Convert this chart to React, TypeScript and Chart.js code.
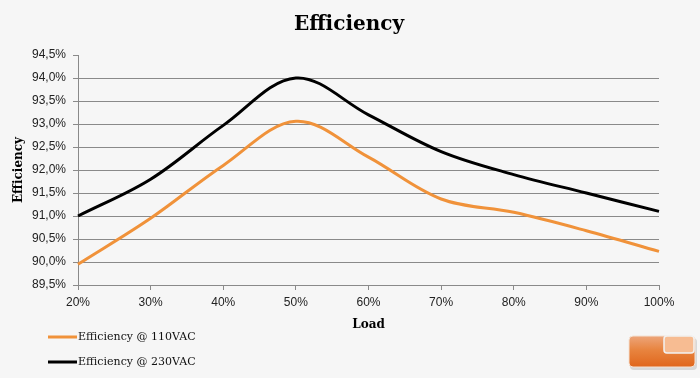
import { useEffect, useRef } from "react";
import { Chart, registerables } from "chart.js";

Chart.register(...registerables);

const loadLabels = ["20%", "30%", "40%", "50%", "60%", "70%", "80%", "90%", "100%"];
const eff110VAC = [89.95, 90.95, 92.1, 93.06, 92.28, 91.37, 91.08, 90.68, 90.23];
const eff230VAC = [91.0, 91.8, 92.97, 94.0, 93.2, 92.4, 91.9, 91.5, 91.1];
const seriesNames = ["Efficiency @ 110VAC", "Efficiency @ 230VAC"];
const seriesColors = ["#F0923A", "#000000"];
const chartTitle = "Efficiency";
const yMin = 89.5;
const yMax = 94.5;
const yStep = 0.5;

const GRID = "#8a8a8a";
const BG = "#f6f6f6";

const bgPlugin = {
  id: "bg",
  beforeDraw(chart: any) {
    const { ctx, width, height } = chart;
    ctx.save();
    ctx.fillStyle = BG;
    ctx.fillRect(0, 0, width, height);
    ctx.restore();
  },
};

function roundRectPath(ctx: any, x: number, y: number, w: number, h: number, r: number) {
  ctx.beginPath();
  ctx.moveTo(x + r, y);
  ctx.lineTo(x + w - r, y);
  ctx.quadraticCurveTo(x + w, y, x + w, y + r);
  ctx.lineTo(x + w, y + h - r);
  ctx.quadraticCurveTo(x + w, y + h, x + w - r, y + h);
  ctx.lineTo(x + r, y + h);
  ctx.quadraticCurveTo(x, y + h, x, y + h - r);
  ctx.lineTo(x, y + r);
  ctx.quadraticCurveTo(x, y, x + r, y);
  ctx.closePath();
}

const legendPlugin = {
  id: "customLegend",
  afterDraw(chart: any) {
    const { ctx } = chart;
    ctx.save();
    // title
    ctx.fillStyle = "#000";
    ctx.font = "bold 20px 'DejaVu Serif'";
    ctx.textAlign = "center";
    ctx.textBaseline = "middle";
    ctx.fillText(chartTitle, 349, 25);

    chart.data.datasets.forEach((ds: any, i: number) => {
      const y = 337 + i * 25;
      ctx.strokeStyle = ds.borderColor;
      ctx.lineWidth = 3;
      ctx.beginPath();
      ctx.moveTo(48, y);
      ctx.lineTo(77, y);
      ctx.stroke();
      ctx.fillStyle = "#111";
      ctx.font = "11px 'DejaVu Serif'";
      ctx.textBaseline = "middle";
      ctx.textAlign = "left";
      ctx.fillText(ds.label, 78, y);
    });

    // logo (decorative)
    ctx.fillStyle = "rgba(0,0,0,0.12)";
    roundRectPath(ctx, 630, 338, 67, 32, 4);
    ctx.fill();
    const g = ctx.createLinearGradient(0, 336, 0, 367);
    g.addColorStop(0, "#EDA57A");
    g.addColorStop(0.45, "#E8843F");
    g.addColorStop(1, "#E0661C");
    ctx.fillStyle = g;
    roundRectPath(ctx, 629, 336, 66, 31, 4);
    ctx.fill();
    ctx.strokeStyle = "#f4e2d4";
    ctx.lineWidth = 1;
    ctx.stroke();
    ctx.fillStyle = "#F7BC92";
    roundRectPath(ctx, 664, 336, 30, 17, 3);
    ctx.fill();
    ctx.strokeStyle = "#f2f2f2";
    ctx.lineWidth = 1.5;
    ctx.stroke();
    ctx.restore();
  },
};

export default function App() {
  const ref = useRef<HTMLCanvasElement | null>(null);

  useEffect(() => {
    document.body.style.margin = "0";
    const canvas = ref.current;
    if (!canvas) return;
    const chart = new Chart(canvas, {
      type: "line",
      data: {
        labels: loadLabels,
        datasets: [
          {
            label: seriesNames[0],
            data: eff110VAC,
            borderColor: seriesColors[0],
            backgroundColor: seriesColors[0],
            borderWidth: 3,
            pointRadius: 0,
            tension: 0.35,
            fill: false,
          },
          {
            label: seriesNames[1],
            data: eff230VAC,
            borderColor: seriesColors[1],
            backgroundColor: seriesColors[1],
            borderWidth: 3,
            pointRadius: 0,
            tension: 0.35,
            fill: false,
          },
        ],
      },
      options: {
        responsive: false,
        animation: false,
        devicePixelRatio: 1,
        layout: { padding: { left: 0, top: 55, right: 41, bottom: 0 } },
        plugins: {
          legend: { display: false },
          tooltip: { enabled: false },
          title: { display: false },
        },
        scales: {
          x: {
            type: "category",
            grid: {
              drawOnChartArea: false,
              drawTicks: true,
              tickLength: 5,
              tickColor: GRID,
              color: GRID,
            },
            border: { display: true, color: GRID, width: 1 },
            ticks: {
              color: "#222",
              font: { family: "'Liberation Sans'", size: 12 },
              padding: 5,
              maxRotation: 0,
              autoSkip: false,
            },
            title: {
              display: true,
              text: "Load",
              color: "#000",
              font: { family: "'DejaVu Serif'", size: 12, weight: "bold" },
              padding: { top: 4, bottom: 46 },
            },
            afterFit(scale: any) {
              scale.height = 93;
            },
          },
          y: {
            min: yMin,
            max: yMax,
            ticks: {
              stepSize: yStep,
              color: "#222",
              font: { family: "'Liberation Sans'", size: 12 },
              padding: 7,
              callback: (v: any) => Number(v).toFixed(1).replace(".", ",") + "%",
            },
            grid: {
              drawTicks: true,
              tickLength: 5,
              tickColor: GRID,
              color: (c: any) => (c.tick && Math.abs(c.tick.value - yMax) < 1e-6 ? "rgba(0,0,0,0)" : GRID),
            },
            border: { display: true, color: GRID, width: 1 },
            title: {
              display: true,
              text: "Efficiency",
              color: "#000",
              font: { family: "'DejaVu Serif'", size: 12, weight: "bold" },
              padding: { top: 12, bottom: 0 },
            },
            afterFit(scale: any) {
              scale.width = 78;
            },
          },
        },
      },
      plugins: [bgPlugin, legendPlugin],
    } as any);
    return () => chart.destroy();
  }, []);

  return (
    <div style={{ position: "absolute", left: 0, top: 0, width: 700, height: 378 }}>
      <canvas ref={ref} width={700} height={378} style={{ display: "block", width: 700, height: 378 }} />
    </div>
  );
}
